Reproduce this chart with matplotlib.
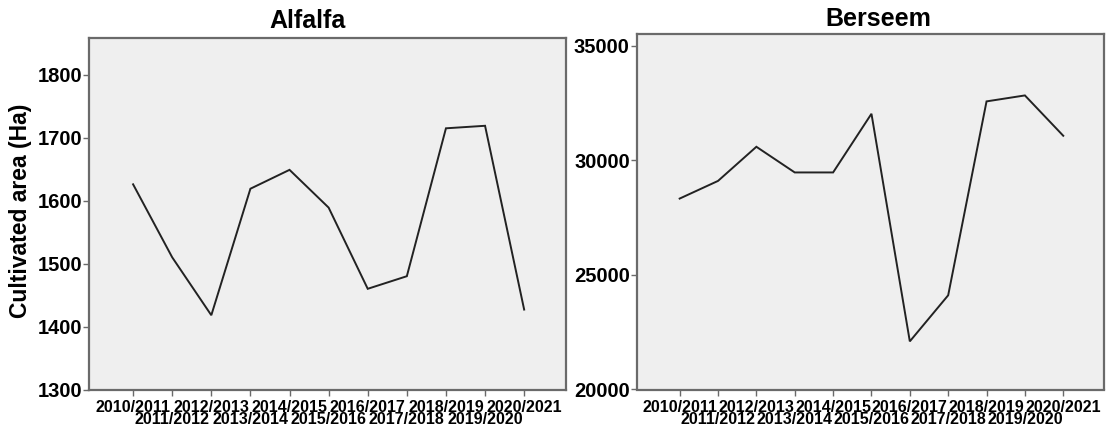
import matplotlib
matplotlib.use("Agg")
import matplotlib.pyplot as plt

plt.rcParams['font.family'] = ['Liberation Sans', 'DejaVu Sans']
plt.rcParams['font.weight'] = 'bold'

seasons = ["2010/2011", "2011/2012", "2012/2013", "2013/2014", "2014/2015",
           "2015/2016", "2016/2017", "2017/2018", "2018/2019", "2019/2020",
           "2020/2021"]
alfalfa_area = [1626, 1510, 1418, 1619, 1649, 1589, 1460, 1480, 1715, 1719, 1427]
berseem_area = [28330, 29100, 30590, 29470, 29470, 32030, 22100, 24110, 32570,
                32830, 31070]

alfalfa_ticks = [1300, 1400, 1500, 1600, 1700, 1800]
berseem_ticks = [20000, 25000, 30000, 35000]

W, H = 1108, 432
fig = plt.figure(figsize=(W / 100, H / 100), dpi=100)
fig.patch.set_facecolor('white')


def px_axes(x0, y0, x1, y1):
    return fig.add_axes([x0 / W, 1 - y1 / H, (x1 - x0) / W, (y1 - y0) / H])


ax1 = px_axes(89.3, 38.3, 566, 389.5)
ax2 = px_axes(636.7, 34, 1104.3, 389.5)

panels = [
    (ax1, alfalfa_area, alfalfa_ticks, (1300, 1858)),
    (ax2, berseem_area, berseem_ticks, (20000, 35510)),
]

xpos = list(range(len(seasons)))
even_pos = xpos[0::2]
odd_pos = xpos[1::2]

for ax, vals, yt, ylim in panels:
    ax.set_facecolor('#efefef')
    ax.plot(xpos, vals, color='#222222', lw=1.4, solid_joinstyle='miter')
    ax.set_xlim(-1.12, 11.07)
    ax.set_ylim(*ylim)
    ax.set_yticks(yt)
    ax.set_yticklabels([str(v) for v in yt], fontsize=14.5, fontweight='bold')
    # alternate season labels on two staggered rows
    ax.set_xticks(even_pos)
    ax.set_xticklabels([seasons[i] for i in even_pos], fontsize=11.5,
                       fontweight='bold')
    ax.set_xticks(odd_pos, minor=True)
    ax.set_xticklabels([seasons[i] for i in odd_pos], minor=True,
                       fontsize=11.5, fontweight='bold')
    for sp in ax.spines.values():
        sp.set_color('#6a6a6a')
        sp.set_linewidth(1.6)
    ax.tick_params(axis='y', length=4.5, width=1.0, color='#6a6a6a', pad=0.5)
    ax.tick_params(axis='x', which='major', length=4.0, width=1.0,
                   color='#6a6a6a', pad=3.5)
    ax.tick_params(axis='x', which='minor', length=4.0, width=1.0,
                   color='#6a6a6a', pad=12.3)

fig.text(21 / W, 1 - 211 / H, "Cultivated area (Ha)", fontsize=16.5,
         fontweight='bold', rotation=90, ha='center', va='center')

fig.text(307 / W, 1 - 28.5 / H, "Alfalfa", fontsize=18, fontweight='bold',
         ha='center', va='baseline')
fig.text(878 / W, 1 - 26 / H, "Berseem", fontsize=18, fontweight='bold',
         ha='center', va='baseline')

fig.savefig("out.png", dpi=100)
